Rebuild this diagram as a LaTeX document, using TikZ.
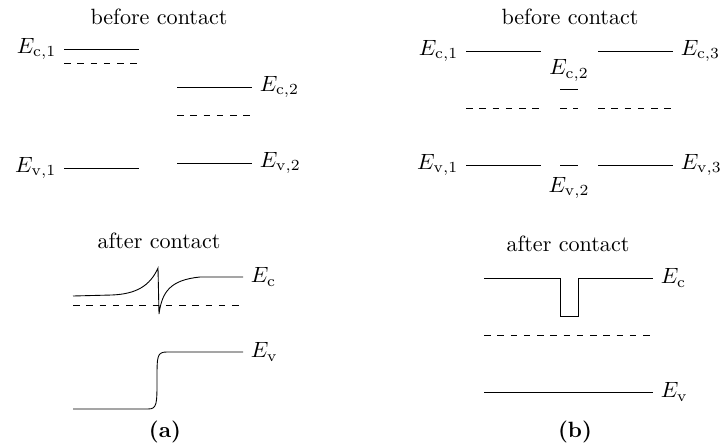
\documentclass[tikz,border=0pt]{standalone}
\usepackage{amsmath}
\usepackage{tikz}
\usetikzlibrary{positioning}

\begin{document}
\begin{tikzpicture}[x=0.4525pt, y=-0.4525pt,
  fermi/.style={dashed},
  lvlleft/.style={anchor=east},
  lvlright/.style={anchor=west}]
  \useasboundingbox (0,0) rectangle (725,445);
  % (a) before contact
  \node (beforea) at (159,17) {before contact};
  \draw (64,49) node[lvlleft] (eca1) {$E_{\mathrm{c},1}$} -- (139,49);
  \draw[fermi] (64,63) -- (139,63);
  \draw (177,87) -- (252,87) node[lvlright] (eca2) {$E_{\mathrm{c},2}$};
  \draw[fermi] (177,115) -- (252,115);
  \draw (64,168) node[lvlleft] (eva1) {$E_{\mathrm{v},1}$} -- (139,168);
  \draw (177,163) -- (252,163) node[lvlright] (eva2) {$E_{\mathrm{v},2}$};
  % (a) after contact
  \node (aftera) at (159,241) {after contact};
  \draw (73,296) -- (112,295) .. controls (136,294) and (150,286) .. (158,268)
    -- (159,314) .. controls (162,292) and (170,280) .. (200,277)
    -- (243,277) node[lvlright] (eca) {$E_\mathrm{c}$};
  \draw[fermi] (73,305) -- (243,305);
  \draw (73,409) -- (148,409) .. controls (157,409) and (157,404) .. (157,380)
    .. controls (157,356) and (157,352) .. (167,352)
    -- (243,352) node[lvlright] (eva) {$E_\mathrm{v}$};
  \node (capa) at (165,432) {\textbf{(a)}};
  % (b) before contact
  \node (beforeb) at (570,17) {before contact};
  \draw (466,51) node[lvlleft] (ecb1) {$E_{\mathrm{c},1}$} -- (541,51);
  \draw (560,89) -- (578,89);
  \node[anchor=south] (ecb2) at (569,89) {$E_{\mathrm{c},2}$};
  \draw (598,51) -- (673,51) node[lvlright] (ecb3) {$E_{\mathrm{c},3}$};
  \draw[fermi] (466,108) -- (541,108);
  \draw[fermi] (560,108) -- (578,108);
  \draw[fermi] (598,108) -- (673,108);
  \draw (466,165) node[lvlleft] (evb1) {$E_{\mathrm{v},1}$} -- (541,165);
  \draw (560,165) -- (578,165);
  \node[anchor=north, yshift=-2pt] (evb2) at (569,165) {$E_{\mathrm{v},2}$};
  \draw (598,165) -- (673,165) node[lvlright] (evb3) {$E_{\mathrm{v},3}$};
  % (b) after contact
  \node (afterb) at (568,244) {after contact};
  \draw (484,278) -- (560,278) -- (560,316) -- (578,316) -- (578,278)
    -- (653,278) node[lvlright] (ecb) {$E_\mathrm{c}$};
  \draw[fermi] (484,335) -- (653,335);
  \draw (484,392) -- (653,392) node[lvlright] (evb) {$E_\mathrm{v}$};
  \node (capb) at (575,432) {\textbf{(b)}};
\end{tikzpicture}
\end{document}
